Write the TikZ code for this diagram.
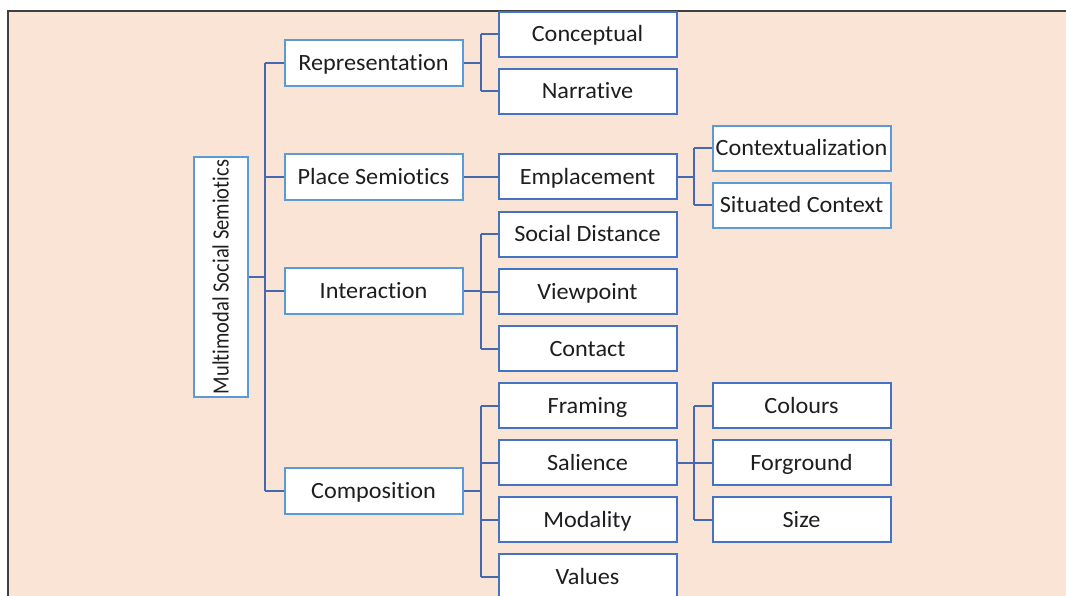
\documentclass[tikz,border=0pt]{standalone}
\usepackage{fontspec}
\setmainfont{Carlito}[FakeStretch=1.04,Ligatures={NoCommon}]
\newfontfamily\rootfont{Carlito}[FakeStretch=0.88,Ligatures={NoCommon}]
\definecolor{bgpeach}{RGB}{250,228,214}
\definecolor{lightblue}{RGB}{91,155,213}
\definecolor{darkblue}{RGB}{68,114,196}
\definecolor{linkblue}{RGB}{70,104,175}
\definecolor{framegray}{RGB}{64,64,64}
\definecolor{txt}{RGB}{30,30,30}
\begin{document}
\begin{tikzpicture}[x=1pt,y=-1pt,
  box/.style={draw,line width=2pt,fill=white,minimum width=178pt,minimum height=45pt,inner sep=0pt,
    text height=20pt,text depth=5pt,
    text=txt,font=\fontsize{23.3}{28}\selectfont},
  lbox/.style={box,draw=lightblue},
  dbox/.style={box,draw=darkblue},
  link/.style={draw=linkblue,line width=2pt}]
\useasboundingbox (0,0) rectangle (1066,596);
\fill[bgpeach] (8,11) rectangle (1066,596);
\draw[framegray,line width=2pt] (8,597) -- (8,11) -- (1067,11);
% root
\node[draw=lightblue,line width=2pt,fill=white,minimum width=54pt,minimum height=239pt,inner sep=0pt,text=txt]
  (root) at (220.5,277) {\rotatebox{90}{\rootfont\fontsize{23.3}{28}\selectfont Multimodal Social Semiotics}};
% level 1
\node[lbox,minimum height=46pt] (rep) at (373.5,63) {Representation};
\node[lbox,minimum height=46pt] (place) at (373.5,177) {Place Semiotics};
\node[lbox,minimum height=46pt] (inter) at (373.5,291) {Interaction};
\node[lbox,minimum height=46pt] (comp) at (373.5,491) {Composition};
% level 2
\node[dbox] (conc) at (587.5,34.5) {Conceptual};
\node[dbox] (narr) at (587.5,91.5) {Narrative};
\node[dbox] (empl) at (587.5,177) {Emplacement};
\node[dbox] (sdist) at (587.5,234.5) {Social Distance};
\node[dbox] (view) at (587.5,291.5) {Viewpoint};
\node[dbox] (cont) at (587.5,348.5) {Contact};
\node[dbox] (fram) at (587.5,405.5) {Framing};
\node[dbox] (sal) at (587.5,462.5) {Salience};
\node[dbox] (moda) at (587.5,519.5) {Modality};
\node[dbox] (vals) at (587.5,576.5) {Values};
% level 3
\node[lbox] (ctx) at (801.5,148.5) {Contextualization};
\node[lbox] (sit) at (801.5,205.5) {Situated Context};
\node[dbox] (col) at (801.5,405.5) {Colours};
\node[dbox] (forg) at (801.5,462.5) {Forground};
\node[dbox] (size) at (801.5,519.5) {Size};
% junction columns
\coordinate (tr0) at (265,0);
\coordinate (tr1) at (481,0);
\coordinate (tr2) at (694,0);
% root to level 1
\draw[link] (root.east) -- (root.east -| tr0);
\draw[link] (tr0 |- rep.west) -- (tr0 |- comp.west);
\foreach \n in {rep,place,inter,comp} \draw[link] (tr0 |- \n.west) -- (\n.west);
% representation
\draw[link] (rep.east) -- (rep.east -| tr1);
\draw[link] (tr1 |- conc.west) -- (tr1 |- narr.west);
\foreach \n in {conc,narr} \draw[link] (tr1 |- \n.west) -- (\n.west);
% place
\draw[link] (place.east) -- (empl.west);
\draw[link] (empl.east) -- (empl.east -| tr2);
\draw[link] (tr2 |- ctx.west) -- (tr2 |- sit.west);
\foreach \n in {ctx,sit} \draw[link] (tr2 |- \n.west) -- (\n.west);
% interaction
\draw[link] (inter.east) -- (inter.east -| tr1);
\draw[link] (tr1 |- sdist.west) -- (tr1 |- cont.west);
\foreach \n in {sdist,view,cont} \draw[link] (tr1 |- \n.west) -- (\n.west);
% composition
\draw[link] (comp.east) -- (comp.east -| tr1);
\draw[link] (tr1 |- fram.west) -- (tr1 |- vals.west);
\foreach \n in {fram,sal,moda,vals} \draw[link] (tr1 |- \n.west) -- (\n.west);
% salience
\draw[link] (sal.east) -- (sal.east -| tr2);
\draw[link] (tr2 |- col.west) -- (tr2 |- size.west);
\foreach \n in {col,forg,size} \draw[link] (tr2 |- \n.west) -- (\n.west);
\end{tikzpicture}
\end{document}
